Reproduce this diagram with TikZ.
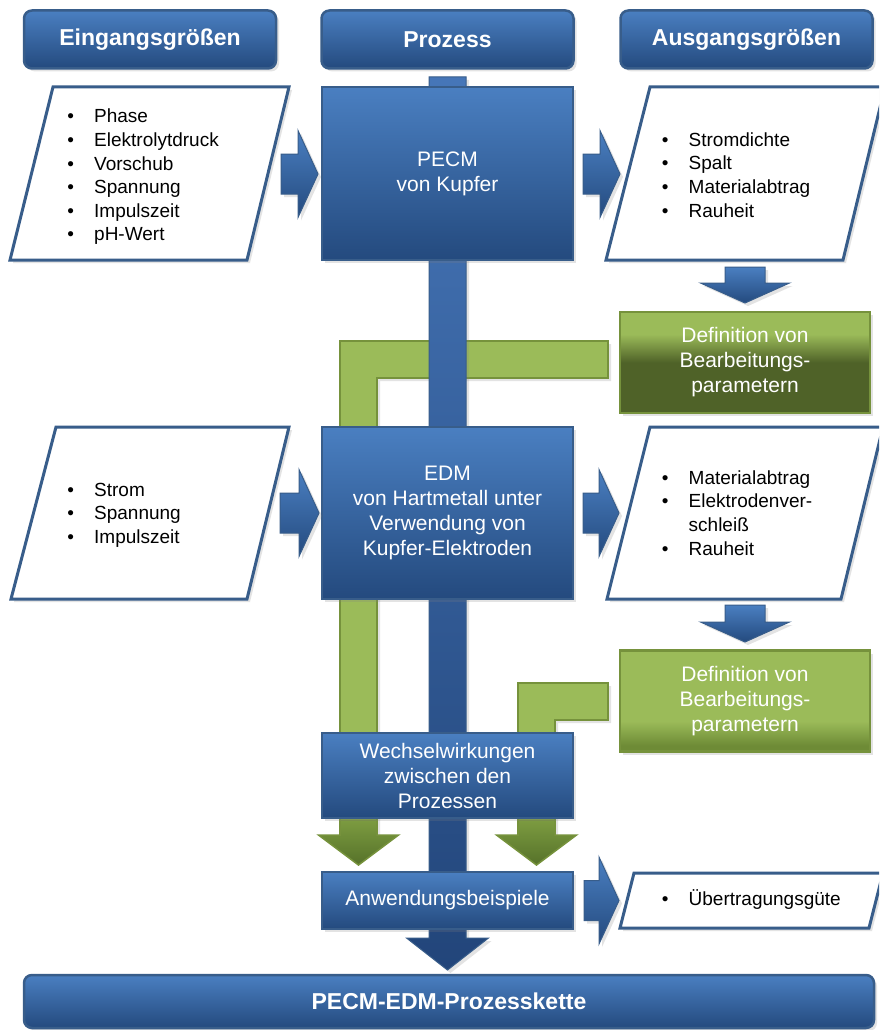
\documentclass[tikz,border=0pt]{standalone}
\usepackage{fontspec}
\setmainfont{Liberation Sans}
\usetikzlibrary{shadows}

\definecolor{bLight}{HTML}{4A7FC1}
\definecolor{bDark}{HTML}{244A7E}
\definecolor{bLine}{HTML}{385D8A}
\definecolor{barTop}{HTML}{4676B8}
\definecolor{barBot}{HTML}{22457A}
\definecolor{gLight}{HTML}{9BBB59}
\definecolor{gDark}{HTML}{4F6228}
\definecolor{gMid}{HTML}{6E8B36}
\definecolor{gLine}{HTML}{76923C}
\definecolor{gHeadTop}{HTML}{7C9B40}
\definecolor{gHeadBot}{HTML}{56722A}

% green fills: mostly dark with a light top band, and mostly light with a dark foot
\pgfdeclareverticalshading{greendark}{100bp}{color(0bp)=(gDark); color(50bp)=(gDark); color(64bp)=(gLight); color(100bp)=(gLight)}
\pgfdeclareverticalshading{greenlight}{100bp}{color(0bp)=(gMid); color(28bp)=(gMid); color(40bp)=(gLight); color(100bp)=(gLight)}

\newcommand{\bl}{\makebox[26.8pt][l]{\textbullet}}

% block arrow pointing right: start x, tip x, centre y
\newcommand{\rightblock}[3]{%
  \draw[blockarrow] (#1,#3-20) -- (#2-20,#3-20) -- (#2-20,#3-43.5) -- (#2,#3)
    -- (#2-20,#3+43.5) -- (#2-20,#3+20) -- (#1,#3+20) -- cycle;}
% block arrow pointing down: centre x, top y, tip y
\newcommand{\downblock}[3]{%
  \draw[blockarrow] (#1-20,#2) -- (#1+20,#2) -- (#1+20,#3-20) -- (#1+44.5,#3-20)
    -- (#1,#3) -- (#1-44.5,#3-20) -- (#1-20,#3-20) -- cycle;}

\tikzset{
  softshadow/.style={drop shadow={shadow xshift=3pt, shadow yshift=-3pt, opacity=0.22}},
  bluebox/.style={draw=bLine, line width=2.5pt, top color=bLight, bottom color=bDark,
    text=white, font=\fontsize{21}{25}\selectfont, align=center, inner sep=0pt,
    minimum width=251, softshadow},
  hdr/.style={bluebox, rounded corners=8pt, font=\bfseries\fontsize{23}{27}\selectfont,
    minimum width=252, minimum height=58},
  defbox/.style={draw=gLine, line width=2.5pt, text=white,
    font=\fontsize{21}{25}\selectfont, align=center, inner sep=0pt,
    minimum width=250, minimum height=101, softshadow},
  paral/.style={draw=bLine, line width=3pt, fill=white, softshadow},
  bullets/.style={font=\fontsize{19}{23.6}\selectfont, align=left, inner sep=0pt, anchor=west},
  blockarrow/.style={draw=bLine, line width=1pt, top color=bLight, bottom color=bDark, softshadow},
  gbar/.style={draw=gLine, line width=1.5pt, fill=gLight, softshadow},
  ghead/.style={draw=gLine, line width=1.5pt, top color=gHeadTop, bottom color=gHeadBot},
  mainbar/.style={draw=bLine, line width=1pt, top color=barTop, bottom color=barBot, softshadow},
}

\begin{document}
\begin{tikzpicture}[x=1pt, y=-1pt]
\useasboundingbox[fill=white] (0,0) rectangle (879,1030);
\clip (0,0) rectangle (879,1030);

% green feedback paths (behind everything)
\draw[gbar] (608,341) -- (608,378) -- (377,378) -- (377,835) -- (340,835) -- (340,341) -- cycle;
\draw[gbar] (608,683) -- (608,720) -- (555,720) -- (555,835) -- (518,835) -- (518,683) -- cycle;
\draw[ghead] (340,820) -- (377,820) -- (377,835) -- (398.5,835) -- (358.5,865) -- (318.5,835) -- (340,835) -- cycle;
\draw[ghead] (518,820) -- (555,820) -- (555,835) -- (576.5,835) -- (536.5,865) -- (496.5,835) -- (518,835) -- cycle;

% main process spine
\draw[mainbar] (429,77) -- (466,77) -- (466,938) -- (488.5,938) -- (447.5,970)
  -- (406.5,938) -- (429,938) -- cycle;

% column headers
\node[hdr] (hIn)   at (150,39.5)   {Eingangsgrößen};
\node[hdr] (hProc) at (447.5,39.5) {Prozess};
\node[hdr] (hOut)  at (746.5,39.5) {Ausgangsgrößen};

% inputs and outputs (parallelograms)
\draw[paral] (53,87) -- (289,87) -- (247,260) -- (10,260) -- cycle;
\draw[paral] (650,87) -- (885,87) -- (843,260) -- (606,260) -- cycle;
\draw[paral] (56,427) -- (289,427) -- (247,599) -- (11,599) -- cycle;
\draw[paral] (650,427) -- (883,427) -- (841,599) -- (607,599) -- cycle;
\draw[paral] (634,873) -- (883,873) -- (869,928) -- (620,928) -- cycle;

\node[bullets] (in1) at (67.2,177) {\bl Phase\\ \bl Elektrolytdruck\\ \bl Vorschub\\ \bl Spannung\\ \bl Impulszeit\\ \bl pH-Wert};
\node[bullets] (out1) at (661.7,175) {\bl Stromdichte\\ \bl Spalt\\ \bl Materialabtrag\\ \bl Rauheit};
\node[bullets] (in2) at (67.2,515) {\bl Strom\\ \bl Spannung\\ \bl Impulszeit};
\node[bullets] (out2) at (661.7,513) {\bl Materialabtrag\\ \bl Elektrodenver-\\ \makebox[26.8pt]{}schleiß\\ \bl Rauheit};
\node[bullets] (out3) at (661.7,900) {\bl Übertragungsgüte};

% process steps
\node[bluebox, minimum height=173] (pecm) at (447.5,173.5) {PECM\\von Kupfer};
\node[bluebox, minimum height=172] (edm) at (447.5,513) {EDM\\von Hartmetall unter\\Verwendung von\\Kupfer-Elektroden};
\node[bluebox, minimum height=85] (wech) at (447.5,775.5) {Wechselwirkungen\\zwischen den\\Prozessen};
\node[bluebox, minimum height=57] (anw) at (447.5,900.5) {Anwendungsbeispiele};

% parameter definitions
\node[defbox, shading=greendark] (def1) at (745,362.5) {Definition von\\Bearbeitungs-\\parametern};
\node[defbox, shading=greenlight] (def2) at (745,701) {Definition von\\Bearbeitungs-\\parametern};

% flow arrows
\rightblock{281}{318}{174}
\rightblock{583}{620}{174}
\rightblock{280}{319}{513}
\rightblock{583}{619}{513}
\rightblock{584}{619}{900.5}
\downblock{745}{267}{303}
\downblock{745}{605}{642}

% overall result
\node[hdr, minimum width=850, minimum height=53] (chain) at (449,1001.5) {PECM-EDM-Prozesskette};
\end{tikzpicture}
\end{document}
